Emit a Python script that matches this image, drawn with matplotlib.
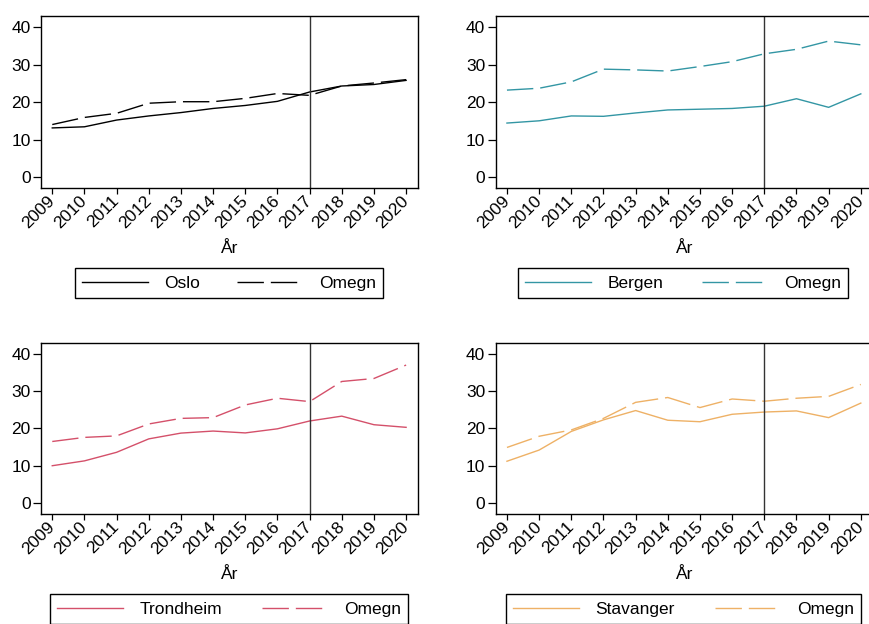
import matplotlib.pyplot as plt
from matplotlib.lines import Line2D
from matplotlib.transforms import ScaledTranslation

plt.rcParams['font.family'] = ['Liberation Sans', 'DejaVu Sans']

years = list(range(2009, 2021))

oslo = [13.1, 13.4, 15.2, 16.3, 17.2, 18.3, 19.1, 20.2, 22.7, 24.3, 24.7, 25.8]
oslo_omegn = [14.0, 15.9, 17.0, 19.7, 20.1, 20.1, 21.0, 22.3, 21.8, 24.3, 25.1, 26.0]

bergen = [14.4, 15.0, 16.3, 16.2, 17.1, 17.9, 18.1, 18.3, 18.9, 20.9, 18.6, 22.2]
bergen_omegn = [23.2, 23.7, 25.4, 28.8, 28.6, 28.3, 29.5, 30.8, 32.9, 34.1, 36.3, 35.3]

trondheim = [10.0, 11.3, 13.6, 17.2, 18.75, 19.3, 18.8, 19.9, 22.0, 23.3, 21.0, 20.3]
trondheim_omegn = [16.5, 17.6, 18.0, 21.2, 22.7, 22.9, 26.3, 28.1, 27.2, 32.6, 33.4, 37.0]

stavanger = [11.2, 14.2, 19.2, 22.3, 24.8, 22.2, 21.8, 23.8, 24.4, 24.7, 22.9, 26.8]
stavanger_omegn = [14.9, 17.9, 19.6, 22.7, 27.0, 28.3, 25.6, 27.9, 27.3, 28.1, 28.6, 31.8]

W, H = 870, 624
fig = plt.figure(figsize=(W / 100, H / 100), dpi=100, facecolor='w')


def px_box(left, top, right, bottom):
    # pixel box -> figure fraction [l, b, w, h]
    return [left / W, 1 - bottom / H, (right - left) / W, (bottom - top) / H]


panels = [
    # name, city, omegn, colour, axes box, legend box
    ('Oslo', oslo, oslo_omegn, 'black', (41, 16, 418, 188), (75, 267, 383, 299)),
    ('Bergen', bergen, bergen_omegn, '#3396a4', (495.7, 16, 872.7, 188), (518, 267, 848, 299)),
    ('Trondheim', trondheim, trondheim_omegn, '#d4506a', (41, 342.7, 418, 514), (50, 593, 408, 625)),
    ('Stavanger', stavanger, stavanger_omegn, '#eeb166', (495.7, 342.7, 872.7, 514), (506, 593, 861, 625)),
]

dash = (0, (19, 5))
fs = 12.5
# nudge the rotated year labels a little right and down
shift = ScaledTranslation(3 / 100, -3 / 100, fig.dpi_scale_trans)

for name, city, omegn, col, box, lbox in panels:
    ax = fig.add_axes(px_box(*box))
    ax.plot(years, city, color=col, lw=1.0)
    ax.plot(years, omegn, color=col, lw=1.0, linestyle=dash)
    ax.axvline(2017, color='#333333', lw=1.0)

    ax.set_xlim(2008.65, 2020.37)
    ax.set_ylim(-2.95, 43.0)
    ax.set_yticks([0, 10, 20, 30, 40])
    ax.set_xticks(years)
    ax.set_xticklabels([str(y) for y in years], rotation=45, ha='right',
                       va='center', rotation_mode='anchor')
    for lab in ax.get_xticklabels():
        lab.set_transform(lab.get_transform() + shift)
    ax.tick_params(axis='x', length=4.5, width=0.9, labelsize=fs, pad=3)
    ax.tick_params(axis='y', length=5.5, width=0.9, labelsize=fs, pad=2)
    for sp in ax.spines.values():
        sp.set_linewidth(1.0)
        sp.set_color('black')

    ax.set_xlabel('År', fontsize=fs)
    ax.xaxis.set_label_coords(0.5, -0.31)
    ax.xaxis.label.set_va('top')

    handles = [Line2D([], [], color=col, lw=1.0),
               Line2D([], [], color=col, lw=1.0, linestyle=dash)]
    l, t, r, b = lbox
    fig.legend(handles, [name, 'Omegn'], ncol=2, mode='expand', loc='center',
               bbox_to_anchor=(l / W, 1 - b / H, (r - l) / W, (b - t) / H),
               fontsize=fs, handlelength=3.8, handletextpad=0.95,
               borderpad=0.4, borderaxespad=0, fancybox=False,
               framealpha=1, edgecolor='black')
    fig.legends[-1].get_frame().set_linewidth(1.0)

fig.savefig('out.png', dpi=100)
